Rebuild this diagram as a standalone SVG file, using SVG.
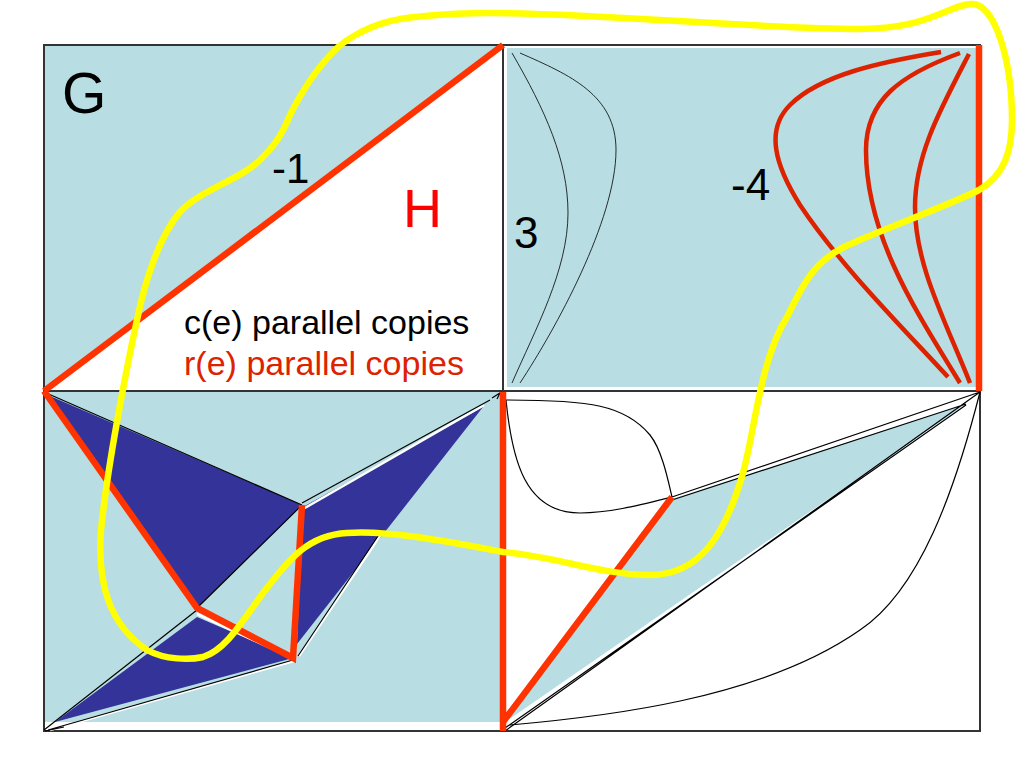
<svg xmlns="http://www.w3.org/2000/svg" width="1024" height="768" viewBox="0 0 1024 768">
<style>
text{font-family:"Liberation Sans",Arial,sans-serif;fill:#000}
.teal{fill:#b8dde2}
.dark{fill:#333399}
.thin{fill:none;stroke:#000;stroke-width:1.2}
.hair{fill:none;stroke:#000;stroke-width:.8}
.wht{fill:none;stroke:#fff;stroke-width:2.5}
.thick{fill:none;stroke:#ff3300;stroke-width:6.5}
.redc{fill:none;stroke:#dd2200;stroke-width:4.5}
</style>
<rect width="1024" height="768" fill="#fff"/>
<g id="regions">
<path class="teal" d="M44 45H503L44 391Z"/>
<rect class="teal" x="507" y="48" width="469" height="339"/>
<rect class="teal" x="44" y="392" width="457" height="330"/>
<path class="teal" d="M503 722L672 499L966 404L505 722Z"/>
<path class="dark" d="M50 396L302 505L197 608Z"/>
<path class="dark" d="M303 507L483 407L297 644Z"/>
<path class="dark" d="M197 617L293 658L55 722Z"/>
</g>
<g id="frame" fill="none" stroke="#333" stroke-width="2">
<rect x="44" y="45" width="936" height="686"/>
<path d="M503 45V391M44 391H980"/>
</g>
<g id="connectors">
<path class="wht" d="M303 509L484 405M299 656L382 533M197 614L292 658M50 730L294 661"/>
<path class="thin" d="M44 392L302 505M197 608L302 505M302 503L490 400M298 656L382 530M44 730L197 610M48 730L293 660M45 731L64 727M492 398L500 393L497 399"/>
<path class="thin" d="M672 497L980 392M672 500L966 404M505 728L966 405M505 731L980 392"/>
<path class="thin" d="M506 400C590 400 625 405 650 435C662 450 668 480 672 497M506 400C512 460 525 513 580 513C610 513 640 505 672 497M510 725C600 717 760 700 860 630C920 590 955 490 980 392"/>
<path class="hair" d="M512 53C545 110 568 160 568 213C568 270 535 330 512 383M520 53C570 75 616 95 616 150C616 220 555 330 520 383"/>
<path class="redc" d="M941 52C880 62 820 75 790 105C765 130 775 165 800 205C840 265 900 325 948 377M960 53C900 75 866 100 866 150C866 235 915 310 960 383M969 54C940 110 915 155 915 207C915 265 945 320 970 383"/>
<path class="thick" d="M44 391L503 45M979 45V391M503 392V731M503 722L672 497M44 391L197 608L293 658L302 505"/>
<path id="yellow-loop" fill="none" stroke="#ffff00" stroke-width="6.5" d="M503 552C555 556 600 575 650 575C700 575 725 535 743 473C755 430 760 360 787 317C805 280 815 262 844 247C870 234 950 205 979 190C1005 175 1012 150 1012 120C1012 60 995 4 972 4C950 4 930 29 860 29C760 29 600 13 490 13C440 13 400 18 387 22C365 28 345 40 335 50C315 70 300 95 290 115C280 140 270 150 260 160C240 180 200 190 180 212C160 235 145 280 137 320C125 375 107 470 101 530C97 585 110 625 147 650C165 660 190 660 203 657C225 650 240 625 263 593C285 565 305 535 347 533C390 530 450 542 503 552Z"/>
</g>
<g id="labels">
<text x="62" y="113" font-size="57">G</text>
<text x="272" y="183" font-size="42">-1</text>
<text x="403" y="227" font-size="54" style="fill:#ff0000">H</text>
<text x="514" y="248" font-size="44">3</text>
<text x="731" y="200" font-size="44">-4</text>
<text x="184" y="334" font-size="34">c(e) parallel copies</text>
<text x="184" y="375" font-size="34" style="fill:#dd2200" textLength="280" lengthAdjust="spacingAndGlyphs">r(e) parallel copies</text>
</g>
</svg>
